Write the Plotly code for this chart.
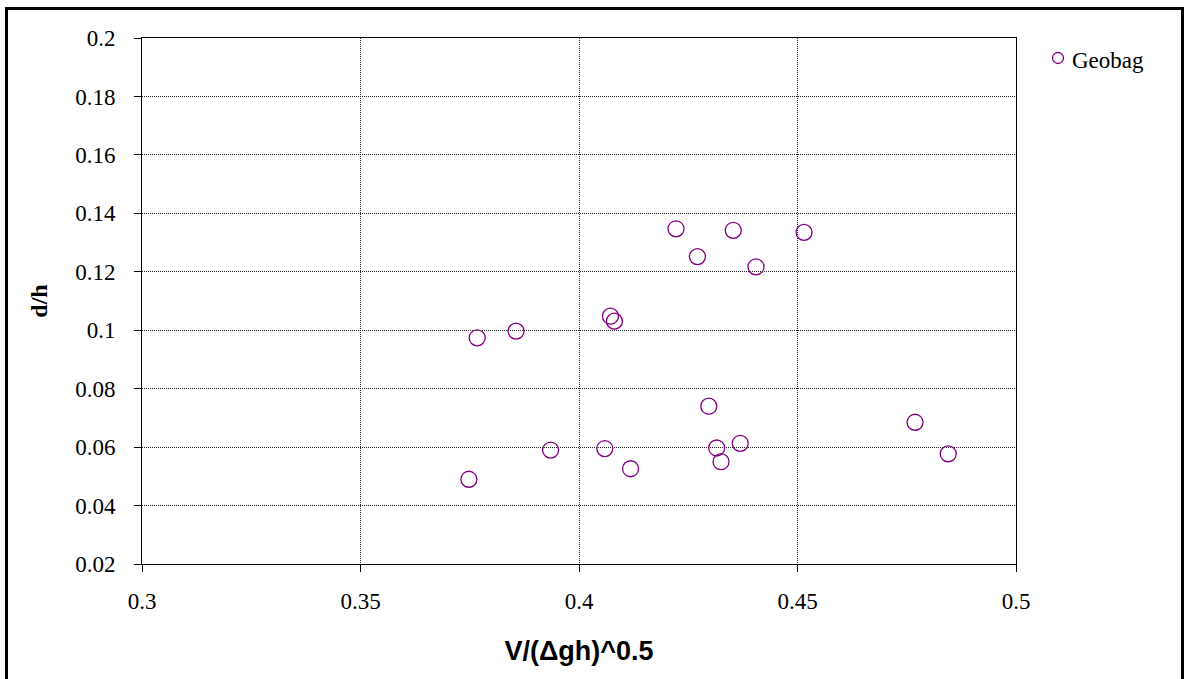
import plotly.graph_objects as go

# Geobag measurements: velocity parameter vs relative scour depth
v_ratio = [0.4222, 0.4353, 0.4515, 0.4271, 0.4405, 0.4072, 0.4081, 0.3767,
           0.3856, 0.4297, 0.3748, 0.3935, 0.4059, 0.4118, 0.4315, 0.4325,
           0.4369, 0.4769, 0.4845]
d_over_h = [0.1347, 0.1342, 0.1335, 0.1252, 0.1217, 0.1048, 0.1031, 0.0974,
            0.0997, 0.0740, 0.0490, 0.0590, 0.0595, 0.0526, 0.0597, 0.0550,
            0.0613, 0.0685, 0.0577]
series_name = "Geobag"

x_ticks = [0.3, 0.35, 0.4, 0.45, 0.5]
x_tick_text = ["0.3", "0.35", "0.4", "0.45", "0.5"]
y_ticks = [0.02, 0.04, 0.06, 0.08, 0.1, 0.12, 0.14, 0.16, 0.18, 0.2]
y_tick_text = ["0.02", "0.04", "0.06", "0.08", "0.1", "0.12", "0.14", "0.16", "0.18", "0.2"]

W, H = 1187, 679
ML, MR, MT, MB = 142, 171, 38, 115
PW, PH = W - ML - MR, H - MT - MB


def px(x):
    return (x - ML) / PW


def py(y):
    return 1 - (y - MT) / PH


serif = "Liberation Serif, Times New Roman, serif"
sans = "Liberation Sans, Arial, sans-serif"
purple = "#800080"

fig = go.Figure()
fig.add_trace(go.Scatter(
    x=v_ratio, y=d_over_h, mode="markers", name=series_name, showlegend=False,
    marker=dict(symbol="circle-open", size=16, color=purple,
                line=dict(width=1.3, color=purple)),
))

fig.update_layout(
    width=W, height=H,
    margin=dict(l=ML, r=MR, t=MT, b=MB),
    paper_bgcolor="white", plot_bgcolor="white",
    font=dict(family=serif, size=23, color="black"),
    showlegend=False,
)

axis_style = dict(
    showline=True, linecolor="black", linewidth=1, mirror=True,
    showgrid=True, gridcolor="#222222", gridwidth=1, griddash="1px,1px",
    ticks="outside", ticklen=7, tickcolor="black", tickwidth=1,
    zeroline=False,
    tickfont=dict(family=serif, size=23, color="black"),
)
fig.update_xaxes(range=[0.3, 0.5], tickvals=x_ticks, ticktext=x_tick_text,
                 ticklabelstandoff=9,
                 title=dict(text="<b>V/(Δgh)^0.5</b>", standoff=28,
                            font=dict(family=sans, size=27, color="black")),
                 **axis_style)
fig.update_yaxes(range=[0.02, 0.2], tickvals=y_ticks, ticktext=y_tick_text,
                 ticklabelstandoff=14,
                 title=dict(text="<b>d/h</b>", standoff=20,
                            font=dict(family=serif, size=24, color="black")),
                 **axis_style)

# Legend key: open circle and series label
fig.add_shape(type="circle", xref="paper", yref="paper",
              x0=px(1052.5), x1=px(1063.5), y0=py(63.5), y1=py(52.5),
              line=dict(color=purple, width=1.3), fillcolor="rgba(0,0,0,0)")
fig.add_annotation(xref="paper", yref="paper", x=px(1070), y=py(60),
                   xanchor="left", yanchor="middle", showarrow=False,
                   text=series_name, font=dict(family=serif, size=23, color="black"))

# Outer frame around the whole chart
fig.add_shape(type="rect", xref="paper", yref="paper",
              x0=px(6.5), x1=px(1182.5), y0=py(690), y1=py(8.5),
              line=dict(color="black", width=3), fillcolor="rgba(0,0,0,0)",
              layer="below")

fig.write_html("out.html")
